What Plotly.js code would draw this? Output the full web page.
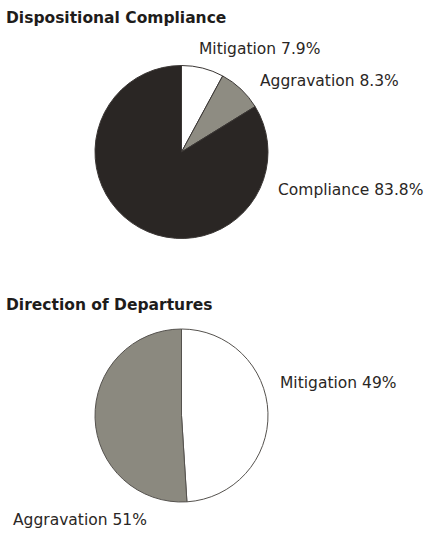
<!DOCTYPE html>
<html><head><meta charset="utf-8">
<script src="https://cdn.plot.ly/plotly-3.0.1.min.js"></script>
<style>html,body{margin:0;padding:0;background:#fff}</style>
</head><body><div id="chart" style="width:430px;height:534px"></div>
<script>
// Chart 1: Dispositional Compliance
var titleTop = "Dispositional Compliance";
var labelsTop = ["Mitigation", "Aggravation", "Compliance"];
var valuesTop = [7.9, 8.3, 83.8];
var colorsTop = ["#ffffff", "#8e8c82", "#2a2624"];

// Chart 2: Direction of Departures
var titleBottom = "Direction of Departures";
var labelsBottom = ["Mitigation", "Aggravation"];
var valuesBottom = [49, 51];
var colorsBottom = ["#ffffff", "#8b897f"];

var W = 430, H = 534;
function px(x){return x / W;}
function py(y){return 1 - y / H;}

var traces = [
  {type:'pie', labels:labelsTop, values:valuesTop, sort:false, direction:'clockwise', rotation:0,
   marker:{colors:colorsTop, line:{color:'#3a3634', width:1}}, textinfo:'none', hoverinfo:'label+value',
   domain:{x:[px(95), px(268)], y:[py(238.5), py(65.5)]}, showlegend:false},
  {type:'pie', labels:labelsBottom, values:valuesBottom, sort:false, direction:'clockwise', rotation:0,
   marker:{colors:colorsBottom, line:{color:'#55524e', width:1}}, textinfo:'none', hoverinfo:'label+value',
   domain:{x:[px(95), px(268)], y:[py(502), py(329)]}, showlegend:false}
];

var labFont = {family:'"DejaVu Sans", sans-serif', size:15.5, color:'#2a2624'};
var ttlFont = {family:'"DejaVu Sans", sans-serif', size:15.5, color:'#1e1c1b', weight:700};
function lab(txt, x, y, anchor){
  return {text:txt, x:px(x), y:py(y), xref:'paper', yref:'paper', xanchor:anchor||'left', yanchor:'middle', showarrow:false, font:labFont};
}
var annotations = [
  {text:'<b>'+titleTop+'</b>', x:px(4), y:py(18), xref:'paper', yref:'paper', xanchor:'left', yanchor:'middle', showarrow:false, font:ttlFont},
  {text:'<b>'+titleBottom+'</b>', x:px(4), y:py(305), xref:'paper', yref:'paper', xanchor:'left', yanchor:'middle', showarrow:false, font:ttlFont},
  lab(labelsTop[0]+' '+valuesTop[0]+'%', 197, 49),
  lab(labelsTop[1]+' '+valuesTop[1]+'%', 258, 81),
  lab(labelsTop[2]+' '+valuesTop[2]+'%', 276, 190),
  lab(labelsBottom[0]+' '+valuesBottom[0]+'%', 278, 383),
  lab(labelsBottom[1]+' '+valuesBottom[1]+'%', 11, 520)
];

Plotly.newPlot('chart', traces, {
  width:W, height:H, margin:{l:0,r:0,t:0,b:0},
  paper_bgcolor:'#ffffff', plot_bgcolor:'#ffffff',
  annotations:annotations
}, {displayModeBar:false, staticPlot:true});
</script></body></html>
